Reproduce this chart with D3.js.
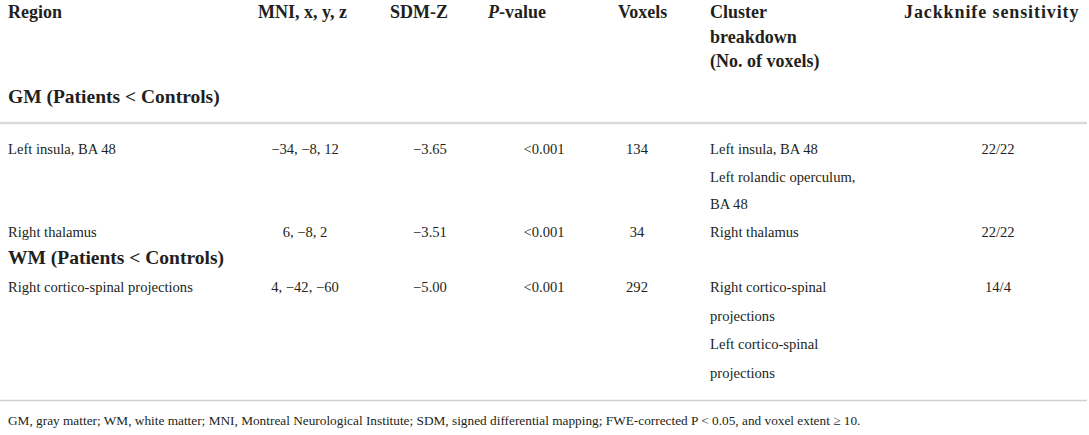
<!DOCTYPE html>
<html>
<head>
<meta charset="utf-8">
<script src="https://cdn.jsdelivr.net/npm/d3@7"></script>
<style>
  body { margin: 0; background: #fff; }
  text { font-family: "Liberation Serif", "Times New Roman", serif; fill: #231f20; }
</style>
</head>
<body>
<script>
// table content
var columns = ["region", "mni", "sdm", "p", "voxels", "cluster", "jack"];
var headerLines = {
  region: ["Region"],
  mni: ["MNI, x, y, z"],
  sdm: ["SDM-Z"],
  p: ["P-value"],
  voxels: ["Voxels"],
  cluster: ["Cluster", "breakdown", "(No. of voxels)"],
  jack: ["Jackknife sensitivity"]
};
var groups = ["GM (Patients < Controls)", "WM (Patients < Controls)"];
var regions = ["Left insula, BA 48", "Right thalamus", "Right cortico-spinal projections"];
var mni = ["−34, −8, 12", "6, −8, 2", "4, −42, −60"];
var sdmZ = [-3.65, -3.51, -5.00];
var pValues = ["<0.001", "<0.001", "<0.001"];
var voxels = [134, 34, 292];
var clusters = [
  ["Left insula, BA 48", "Left rolandic operculum,", "BA 48"],
  ["Right thalamus"],
  ["Right cortico-spinal", "projections", "Left cortico-spinal", "projections"]
];
var jackknife = ["22/22", "22/22", "14/4"];
var footnote = "GM, gray matter; WM, white matter; MNI, Montreal Neurological Institute; SDM, signed differential mapping; FWE-corrected P < 0.05, and voxel extent \u2265 10.";

var width = 1089, height = 435;
var svg = d3.select("body").append("svg").attr("width", width).attr("height", height);

// column left edges (headers) and value centres
var colStart = d3.scaleOrdinal().domain(columns).range([8, 258, 390, 488, 618, 710, 904]);
var colCenter = d3.scaleOrdinal().domain(columns).range([8, 305, 430, 544, 637, 710, 998]);
var colAnchor = d3.scaleOrdinal().domain(columns).range(["start", "middle", "middle", "middle", "middle", "start", "middle"]);

var fmt = d3.format(".2f");

// header
columns.forEach(function (c) {
  headerLines[c].forEach(function (line, i) {
    var t = svg.append("text")
      .attr("x", colStart(c))
      .attr("y", 18 + i * 24.5)
      .attr("font-size", 18)
      .attr("font-weight", "bold")
      .attr("letter-spacing", c === "jack" ? 0.9 : 0);
    if (c === "p") {
      t.append("tspan").attr("font-style", "italic").text("P");
      t.append("tspan").text("-value");
    } else {
      t.text(line);
    }
  });
});

// group labels
var groupY = [103, 264];
svg.selectAll("text.group")
  .data(groups)
  .enter().append("text")
  .attr("class", "group")
  .attr("x", 8)
  .attr("y", function (d, i) { return groupY[i]; })
  .attr("font-size", 19.5)
  .attr("font-weight", "bold")
  .text(function (d) { return d; });

// rules
svg.append("line")
  .attr("x1", 0).attr("x2", 1087)
  .attr("y1", 123).attr("y2", 123)
  .attr("stroke", "#d9d9d9").attr("stroke-width", 2.5);
svg.append("line")
  .attr("x1", 0).attr("x2", 1087)
  .attr("y1", 400.5).attr("y2", 400.5)
  .attr("stroke", "#d0d0d0").attr("stroke-width", 1.5);

// body rows
var rowY = [154, 237, 292];
var subStep = [27.5, 28, 28.7];

var rows = regions.map(function (r, i) {
  return {
    region: r, mni: mni[i], sdm: fmt(sdmZ[i]), p: pValues[i],
    voxels: String(voxels[i]), cluster: clusters[i], jack: jackknife[i], y: rowY[i], step: subStep[i]
  };
});

rows.forEach(function (row) {
  columns.forEach(function (c) {
    var lines = c === "cluster" ? row.cluster : [row[c]];
    lines.forEach(function (line, i) {
      svg.append("text")
        .attr("x", colCenter(c))
        .attr("y", row.y + i * row.step)
        .attr("text-anchor", colAnchor(c))
        .attr("font-size", 14.6)
        .text(line);
    });
  });
});

// footnote
svg.append("text")
  .attr("x", 8)
  .attr("y", 425)
  .attr("font-size", 13.3)
  .text(footnote);
</script>
</body>
</html>
